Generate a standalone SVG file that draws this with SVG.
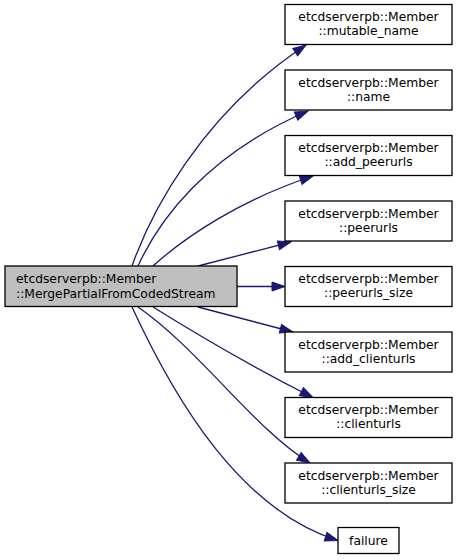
<svg xmlns="http://www.w3.org/2000/svg" width="459" height="560" viewBox="0 0 459 560">
<defs>
<style>
.n rect{fill:#ffffff;stroke:#000000;stroke-width:1.3}
.main rect{fill:#bfbfbf}
text{font-family:"DejaVu Sans","Liberation Sans",sans-serif;font-size:12.3px;fill:#000000}
.c{text-anchor:middle}
.e path{fill:none;stroke:#191970;stroke-width:1.3;marker-end:url(#ah)}
</style>
<marker id="ah" markerUnits="userSpaceOnUse" markerWidth="14" markerHeight="10" refX="13" refY="4.5" orient="auto" overflow="visible">
<path d="M0,0 L13,4.5 L0,9 Z" fill="#191970" stroke="#191970" stroke-width="1"/>
</marker>
</defs>
<rect width="459" height="560" fill="#ffffff"/>
<g id="edges" class="e">
<path d="M132,266 C150,215 200,115 306,45"/>
<path d="M138,266 C158,222 205,155 308,111"/>
<path d="M153,266 C185,237 240,200 313,176"/>
<path d="M198,266 L291,242"/>
<path d="M237,286.5 L285,286.5"/>
<path d="M198,307 L293,332"/>
<path d="M153,307 C190,330 250,366 313,397.5"/>
<path d="M138,307 C200,350 255,430 310,463"/>
<path d="M132,307 C175,400 240,510 338,540.5"/>
</g>
<g id="node-main" class="n main">
<rect x="5" y="266" width="232" height="40.5"/>
<text x="16" y="283.3">etcdserverpb::Member</text>
<text x="16" y="297.7">::MergePartialFromCodedStream</text>
</g>
<g id="node-mutable_name" class="n">
<rect x="285" y="4.5" width="167" height="40"/>
<text class="c" x="368.5" y="21">etcdserverpb::Member</text>
<text class="c" x="368.5" y="35.4">::mutable_name</text>
</g>
<g id="node-name" class="n">
<rect x="285" y="70" width="167" height="40"/>
<text class="c" x="368.5" y="86.5">etcdserverpb::Member</text>
<text class="c" x="368.5" y="100.9">::name</text>
</g>
<g id="node-add_peerurls" class="n">
<rect x="285" y="135.5" width="167" height="40"/>
<text class="c" x="368.5" y="152">etcdserverpb::Member</text>
<text class="c" x="368.5" y="166.4">::add_peerurls</text>
</g>
<g id="node-peerurls" class="n">
<rect x="285" y="201" width="167" height="40"/>
<text class="c" x="368.5" y="217.5">etcdserverpb::Member</text>
<text class="c" x="368.5" y="231.9">::peerurls</text>
</g>
<g id="node-peerurls_size" class="n">
<rect x="285" y="266.5" width="167" height="40"/>
<text class="c" x="368.5" y="283">etcdserverpb::Member</text>
<text class="c" x="368.5" y="297.4">::peerurls_size</text>
</g>
<g id="node-add_clienturls" class="n">
<rect x="285" y="332" width="167" height="40"/>
<text class="c" x="368.5" y="348.5">etcdserverpb::Member</text>
<text class="c" x="368.5" y="362.9">::add_clienturls</text>
</g>
<g id="node-clienturls" class="n">
<rect x="285" y="397.5" width="167" height="40"/>
<text class="c" x="368.5" y="414">etcdserverpb::Member</text>
<text class="c" x="368.5" y="428.4">::clienturls</text>
</g>
<g id="node-clienturls_size" class="n">
<rect x="285" y="463" width="167" height="40"/>
<text class="c" x="368.5" y="479.5">etcdserverpb::Member</text>
<text class="c" x="368.5" y="493.9">::clienturls_size</text>
</g>
<g id="node-failure" class="n">
<rect x="338" y="527.5" width="61" height="26"/>
<text class="c" x="368.5" y="544.5">failure</text>
</g>
</svg>
